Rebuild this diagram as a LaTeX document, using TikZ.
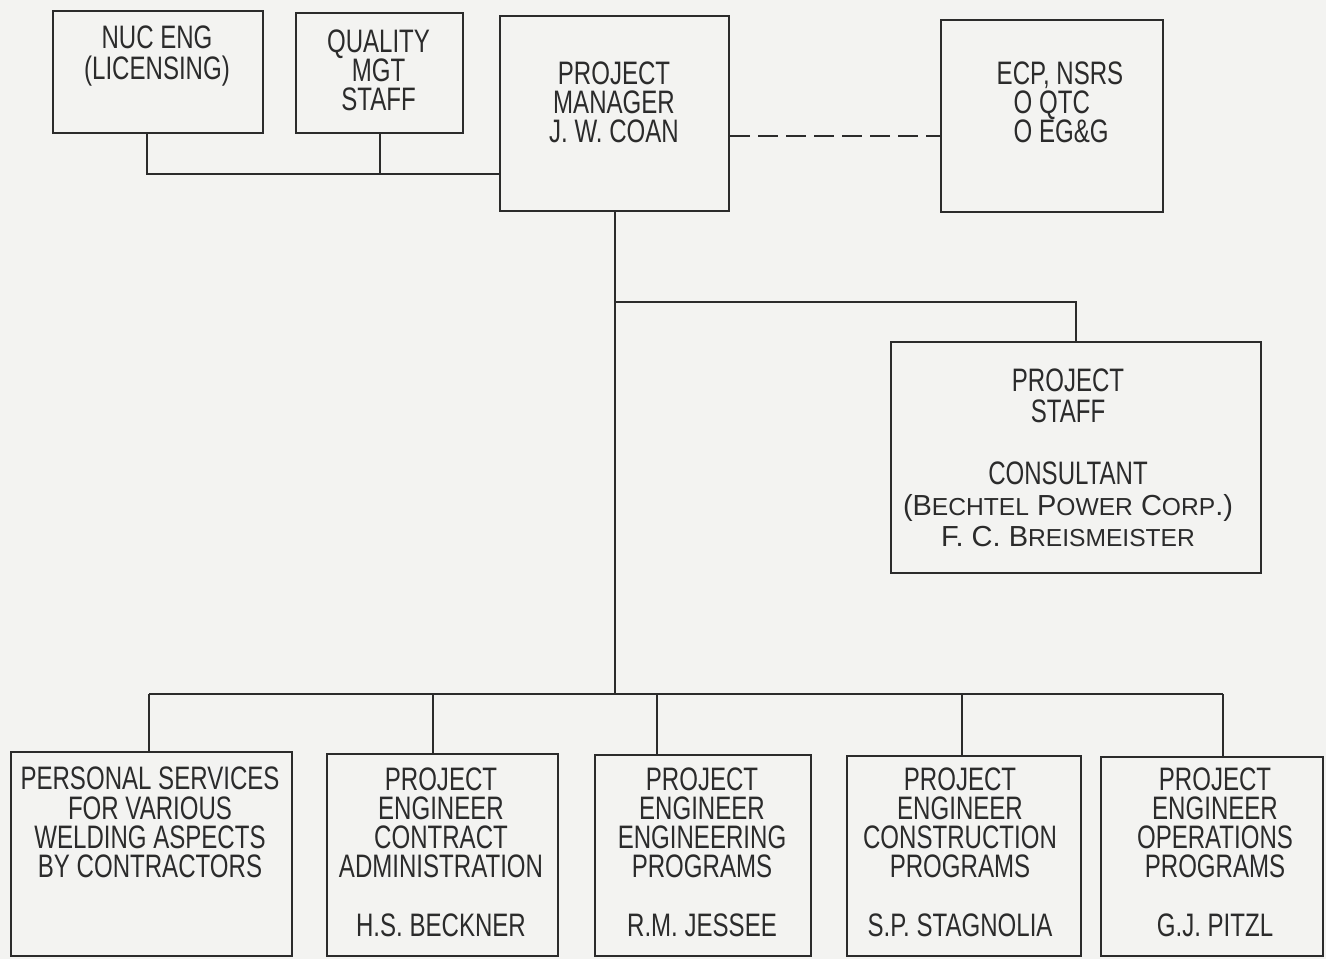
\documentclass[tikz,border=0pt]{standalone}
\usepackage{fontspec}
\usepackage{xcolor}
\usepackage{tikz}
\usetikzlibrary{positioning}
\newfontfamily\orgfont[FakeStretch=0.74]{Liberation Sans}
\newfontfamily\capfont{Liberation Sans}
\newcommand\bigsc[1]{{\capfont\fontsize{16.5}{17.6}\selectfont #1}}
\newcommand\lc[1]{{\fontsize{14}{14}\selectfont #1}}
\definecolor{paper}{HTML}{F3F3F1}
\definecolor{ink}{HTML}{2B2B2B}
\tikzset{
unit/.style={draw=ink, line width=1.2pt, anchor=north west, inner sep=0pt},
lbl/.style={font={\orgfont\fontsize{18.5}{16.6}\selectfont}, align=center, inner sep=0pt, text=ink},
link/.style={draw=ink, line width=1.1pt},
tie/.style={link, dash pattern=on 0.4cm off 0.16cm}
}

\begin{document}
\begin{tikzpicture}
\fill[paper] (0,0) rectangle (26.52,-19.18);
\useasboundingbox (0,0) rectangle (26.52,-19.18);
\node[unit, minimum width=4.2cm, minimum height=2.44cm](nuc) at (1.04,-0.2){};
\node[unit, minimum width=3.34cm, minimum height=2.4cm](qms) at (5.9,-0.24){};
\node[unit, minimum width=4.58cm, minimum height=3.9cm](pm) at (9.98,-0.3){};
\node[unit, minimum width=4.44cm, minimum height=3.84cm](ecp) at (18.8,-0.38){};
\node[unit, minimum width=7.4cm, minimum height=4.62cm](stf) at (17.8,-6.82){};
\node[unit, minimum width=5.62cm, minimum height=4.08cm](b1) at (0.2,-15.02){};
\node[unit, minimum width=4.62cm, minimum height=4.04cm](b2) at (6.52,-15.06){};
\node[unit, minimum width=4.32cm, minimum height=4.02cm](b3) at (11.88,-15.08){};
\node[unit, minimum width=4.68cm, minimum height=4.0cm](b4) at (16.92,-15.1){};
\node[unit, minimum width=4.44cm, minimum height=3.98cm](b5) at (22.0,-15.12){};
\node[lbl](nuct) at (3.14,-1.12){NUC ENG\\[1pt](LICENSING)};
\node[lbl](qmst) at (7.57,-1.4){QUALITY\\MGT\\STAFF};
\node[lbl](pmt) at (12.28,-2.04){PROJECT\\MANAGER\\J. W. COAN};
\node[lbl, align=left](ecpt) at (21.2,-2.04){ECP, NSRS\\\hspace*{0.34cm}O QTC\\\hspace*{0.34cm}O EG\&G};
\node[lbl, font={\orgfont\fontsize{18.5}{17.6}\selectfont}](stft) at (21.36,-9.15){PROJECT\\STAFF\\[17.6pt]CONSULTANT\\
\bigsc{(B\lc{ECHTEL} P\lc{OWER} C\lc{ORP}.)}\\\bigsc{F. C. B\lc{REISMEISTER}}};
\node[lbl](b1t) at (3.0,-16.45){PERSONAL SERVICES\\FOR VARIOUS\\WELDING ASPECTS\\BY CONTRACTORS};
\node[lbl](b2t) at (8.82,-17.04){PROJECT\\ENGINEER\\CONTRACT\\ADMINISTRATION\\[16.6pt]H.S. BECKNER};
\node[lbl](b3t) at (14.04,-17.04){PROJECT\\ENGINEER\\ENGINEERING\\PROGRAMS\\[16.6pt]R.M. JESSEE};
\node[lbl](b4t) at (19.2,-17.04){PROJECT\\ENGINEER\\CONSTRUCTION\\PROGRAMS\\[16.6pt]S.P. STAGNOLIA};
\node[lbl](b5t) at (24.3,-17.04){PROJECT\\ENGINEER\\OPERATIONS\\PROGRAMS\\[16.6pt]G.J. PITZL};
\coordinate (join) at ([yshift=-1.21cm]pm.west);
\coordinate (tap) at ([yshift=-1.8cm]pm.south);
\coordinate (bus) at ([yshift=-9.64cm]pm.south);
\draw[link]([xshift=-0.22cm]nuc.south) |- (join);
\draw[link](qms.south) -- (qms.south |- join);
\draw[tie]([yshift=-0.45cm]pm.east) -- ([yshift=-0.45cm]pm.east -| ecp.west);
\draw[link](pm.south) -- (bus);
\draw[link](tap) -| (stf.north);
\draw[link]([xshift=-0.05cm]b1.north |- bus) -- ([xshift=0.22cm]b5.north |- bus);
\foreach \b/\s in {b1/-0.05,b2/-0.19,b3/-0.92,b4/-0.04,b5/0.22}
\draw[link]([xshift=\s cm]\b.north) -- ([xshift=\s cm]\b.north |- bus);
\end{tikzpicture}
\end{document}
